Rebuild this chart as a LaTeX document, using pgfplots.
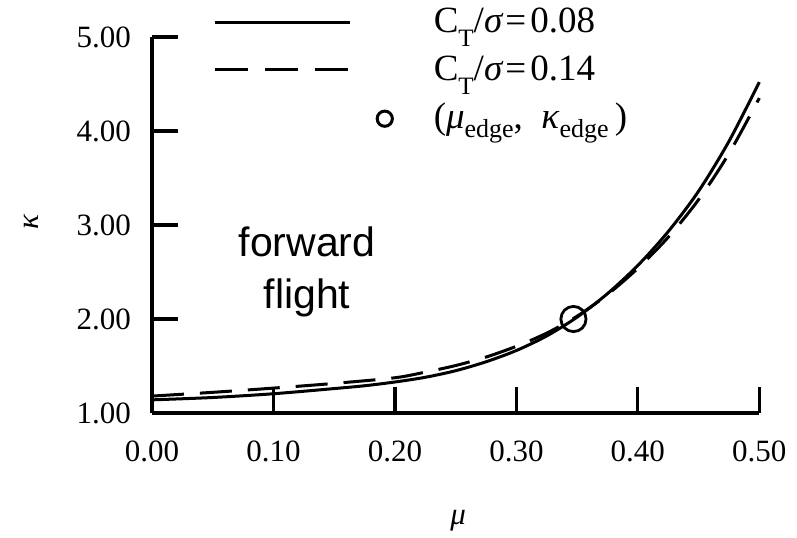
\documentclass[border=0pt]{standalone}
\usepackage{fontspec}
\setmainfont{Liberation Serif}
\newfontfamily\sansf{Liberation Sans}
\usepackage{pgfplots}
\pgfplotsset{compat=1.18}
\newcommand{\mainsize}{\fontsize{15.5}{18}\selectfont}
\newcommand{\legsize}{\fontsize{18.5}{22}\selectfont}
\newcommand{\subT}{\raisebox{-7pt}{\fontsize{12.5}{12.5}\selectfont T}}
\newcommand{\subE}{\raisebox{-4.5pt}{\fontsize{13}{13}\selectfont edge}}
\begin{document}
\begin{tikzpicture}
\path[use as bounding box] (-76pt,-62pt) rectangle (322.5pt,206.5pt);
\begin{axis}[
  at={(0,0)}, anchor=south west,
  width=303.65pt, height=188pt, scale only axis,
  xmin=0, xmax=0.5, ymin=1, ymax=5,
  axis x line=bottom, axis y line=left,
  axis line style={line width=1.6pt, -},
  tick align=inside,
  major tick length=13pt,
  tick style={line width=1.6pt, black},
  xtick={0,0.1,0.2,0.3,0.4,0.5},
  xticklabels={0.00,0.10,0.20,0.30,0.40,0.50},
  ytick={1,2,3,4,5},
  yticklabels={1.00,2.00,3.00,4.00,5.00},
  /pgf/number format/assume math mode=true,
  ticklabel style={font=\mainsize},
  xticklabel style={yshift=-10.3pt},
  yticklabel style={xshift=-7pt},
  xlabel={\textit{μ}},
  ylabel={\textit{κ}},
  label style={font=\mainsize},
  xlabel style={at={(axis description cs:0.504,-0.287)}, anchor=center},
  ylabel style={at={(axis description cs:-0.198,0.509)}, anchor=center},
  legend style={at={(axis description cs:0.1004,1.0886)}, anchor=north west,
    draw=none, fill=none, font=\legsize, inner sep=0pt, row sep=4pt, column sep=4.5pt,
    nodes={inner sep=0pt, text height=14pt, text depth=6pt}},
  legend cell align=left,
  clip=false,
]
\addplot[black, line width=1.5pt, smooth,
  legend image code/.code={\draw[black, line width=1.4pt] (0pt,1pt) -- (67.5pt,1pt); \path[draw=none] (0pt,0pt) -- (105pt,0pt);}]
  coordinates {(0.000,1.14) (0.050,1.165) (0.100,1.205) (0.150,1.26) (0.175,1.29) (0.200,1.33) (0.225,1.38) (0.250,1.45) (0.275,1.545) (0.300,1.665) (0.325,1.82) (0.350,2.02) (0.375,2.27) (0.400,2.57) (0.425,2.93) (0.450,3.36) (0.475,3.89) (0.500,4.52)};
\addlegendentry{C\subT/\textit{σ}\hspace{1pt}=\hspace{2pt}0.08}
\addplot[black, line width=1.5pt, dash pattern=on 16pt off 8pt, smooth,
  legend image code/.code={\draw[black, line width=1.4pt, dash pattern=on 16.5pt off 8.5pt] (0pt,1.5pt) -- (67.5pt,1.5pt); \path[draw=none] (0pt,0pt) -- (105pt,0pt);}]
  coordinates {(0.000,1.18) (0.050,1.22) (0.100,1.265) (0.150,1.315) (0.200,1.375) (0.225,1.435) (0.250,1.505) (0.275,1.595) (0.300,1.71) (0.325,1.85) (0.350,2.03) (0.375,2.26) (0.400,2.54) (0.425,2.87) (0.450,3.27) (0.475,3.76) (0.500,4.35)};
\addlegendentry{C\subT/\textit{σ}\hspace{1pt}=\hspace{2pt}0.14}
\addplot[only marks, mark=o, mark size=6.3pt, mark options={black, line width=1.4pt},
  legend image code/.code={\draw[black, line width=1.5pt] (85pt,0.7pt) circle (3.8pt); \path[draw=none] (0pt,0pt) -- (105pt,0pt);}]
  coordinates {(0.347,2.00)};
\addlegendentry{(\textit{μ}\subE,\ \ \textit{κ}\subE\,)}
\node[font=\sansf\fontsize{20.5}{26}\selectfont, align=center] at (axis cs:0.1277,2.50) {forward\\flight};
\end{axis}
\end{tikzpicture}
\end{document}
